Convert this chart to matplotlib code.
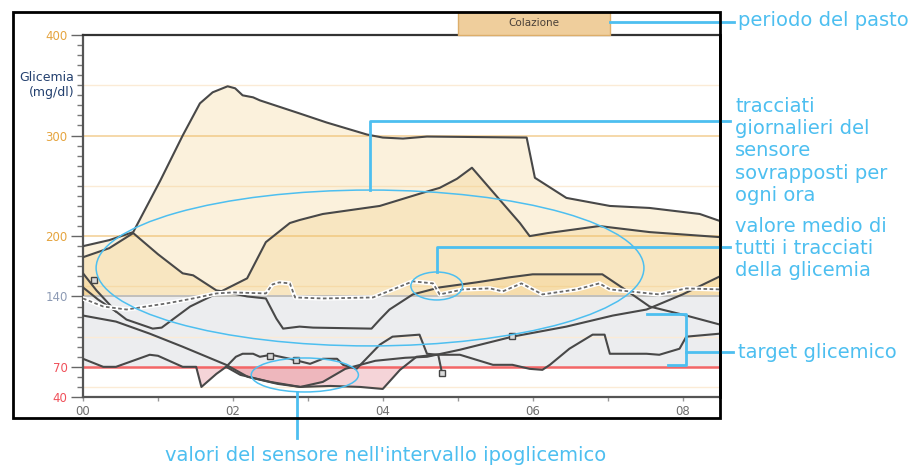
import numpy as np
import matplotlib.pyplot as plt
from matplotlib.patches import Ellipse, Rectangle

# hours since 00:00 / glucose mg/dl, one list pair per daily sensor trace
t_peak = [0, 0.35, 0.67, 1.03, 1.33, 1.56, 1.73, 1.93, 2.03, 2.13, 2.27, 2.36, 2.89, 3.25,
          3.79, 4.0, 4.27, 4.59, 5.92, 6.03, 6.45, 7.03, 7.56, 8.23, 8.5]
g_peak = [190, 196, 204, 255, 300, 332, 343, 349, 347, 340, 338, 335, 322, 313,
          301, 298, 297, 299, 298, 258, 238, 230, 228, 222, 215]

t_drop = [0, 0.35, 0.67, 1.0, 1.33, 1.47, 1.78, 1.87, 2.19, 2.44, 2.58, 2.67, 2.89, 3.07,
          3.85, 3.96, 4.09, 4.4, 4.76, 5.25, 5.69, 6.0, 6.93, 7.07, 7.29, 7.56, 8.05, 8.5]
g_drop = [179, 188, 203, 182, 163, 161, 146, 145, 140, 138, 118, 108, 110, 109,
          108, 117, 127, 142, 149, 154, 159, 162, 162, 155, 144, 130, 121, 112]

t_rise = [0, 0.18, 0.44, 0.58, 0.93, 1.05, 1.43, 1.87, 2.19, 2.44, 2.76, 2.89, 3.2, 3.96,
          4.53, 4.76, 4.99, 5.19, 5.69, 5.83, 5.96, 6.2, 6.89, 7.56, 8.5]
g_rise = [163, 146, 125, 117, 108, 109, 130, 146, 158, 194, 213, 216, 222, 230,
          243, 248, 257, 268, 225, 213, 200, 203, 210, 204, 199]

t_short = [0, 0.2, 0.44]
g_short = [149, 137, 125]

t_diag = [0, 0.44, 0.89, 1.33, 1.91, 2.2, 2.6, 2.9, 3.2, 3.5, 3.9, 4.3, 4.59, 5.03,
          5.73, 6.45, 7.07, 7.52, 8.0, 8.5]
g_diag = [121, 115, 103, 90, 72, 60, 53, 50, 55, 68, 76, 79, 80, 87,
          100, 110, 121, 127, 142, 160]

t_low = [0, 0.27, 0.44, 0.89, 1.0, 1.33, 1.51, 1.58, 1.78, 1.91, 2.1, 2.5, 2.9, 3.3, 3.7,
         4.0, 4.23, 4.45, 4.7, 5.03, 5.47, 5.73, 5.96, 6.13, 6.23, 6.49, 6.8, 6.96, 7.03,
         7.52, 7.69, 7.96, 8.05, 8.5]
g_low = [78, 70, 70, 82, 81, 70, 70, 50, 63, 70, 62, 55, 50, 51, 50,
         48, 67, 80, 82, 82, 72, 72, 68, 67, 72, 88, 102, 102, 83,
         83, 82, 88, 100, 103]

t_bump = [1.91, 2.04, 2.13, 2.27, 2.36, 2.51, 2.76, 3.03, 3.2, 3.39, 3.47, 3.65, 3.96,
          4.13, 4.49, 4.59, 4.74, 4.79]
g_bump = [70, 80, 83, 83, 80, 82, 78, 73, 78, 78, 72, 68, 92,
          100, 102, 83, 82, 64]

t_mean = [0, 0.27, 0.58, 1.11, 1.47, 1.78, 2.0, 2.44, 2.53, 2.62, 2.76, 2.83, 3.2, 3.87,
          4.4, 4.67, 4.76, 5.07, 5.43, 5.6, 5.85, 6.13, 6.59, 6.89, 7.03, 7.69, 8.05, 8.5]
g_mean = [138, 130, 127, 133, 138, 143, 144, 143, 152, 154, 153, 139, 138, 139,
          155, 153, 142, 147, 148, 145, 153, 142, 147, 153, 147, 142, 148, 147]

# event markers on traces
mark_t = [0.15, 2.5, 2.84, 4.79, 5.73]
mark_g = [156, 81, 77, 64, 101]

yticks = [40, 70, 140, 200, 300, 400]
ytick_colors = ['#F0505A', '#F0505A', '#8C9AB4', '#E5A43E', '#E5A43E', '#E5A43E']
xticks = [0, 2, 4, 6, 8]
xlabels = ['00', '02', '04', '06', '08']
meal_name = 'Colazione'
meal_start, meal_end = 5.0, 7.03

traces = [(t_peak, g_peak), (t_drop, g_drop), (t_rise, g_rise), (t_short, g_short),
          (t_diag, g_diag), (t_low, g_low), (t_bump, g_bump)]

W, H = 914, 465
fig = plt.figure(figsize=(W / 100, H / 100), dpi=100)
ax = fig.add_axes([83 / W, 1 - 397 / H, (720 - 83) / W, (397 - 35) / H])
ax.set_xlim(0, 8.5)
ax.set_ylim(40, 400)

# background bands and grid
ax.axhspan(70, 140, color='#ECEDEF', zorder=0, lw=0)
for y in [350, 250, 150, 100, 50]:
    ax.axhline(y, color='#FBEBD6', lw=1.0, zorder=0.5)
for y in [300, 200]:
    ax.axhline(y, color='#F4D6A2', lw=1.3, zorder=0.5)

# layered fills above 140 and below 70
for t, g in traces:
    tt = np.linspace(t[0], t[-1], 600)
    gg = np.interp(tt, t, g)
    ax.fill_between(tt, gg, 140, where=gg > 140, interpolate=True,
                    color='#F0C369', alpha=0.23, lw=0, zorder=1)
    ax.fill_between(tt, gg, 70, where=gg < 70, interpolate=True,
                    color='#E27C86', alpha=0.32, lw=0, zorder=1)

ax.axhline(140, color='#BDBDBD', lw=1.3, zorder=2)
ax.axhline(70, color='#F36666', lw=1.8, zorder=2)

for t, g in traces:
    ax.plot(t, g, color='#484848', lw=1.5, zorder=3, solid_joinstyle='round')

ax.plot(t_mean, g_mean, color='white', lw=3.2, zorder=4)
ax.plot(t_mean, g_mean, color='#6A6A6A', lw=1.3, ls=(0, (2, 1.4)), zorder=5)
ax.plot(mark_t, mark_g, ls='none', marker='s', ms=4.5, mfc='#DADADA',
        mec='#444444', mew=1.0, zorder=6)

# axes styling
for s in ['left', 'bottom']:
    ax.spines[s].set_color('#555555')
    ax.spines[s].set_linewidth(1.6)
ax.spines['top'].set_color('#333333')
ax.spines['top'].set_linewidth(1.6)
ax.spines['right'].set_color('black')
ax.spines['right'].set_linewidth(2)

ax.set_yticks(yticks)
ax.set_yticklabels([str(v) for v in yticks], fontsize=8.5)
for lab, c in zip(ax.get_yticklabels(), ytick_colors):
    lab.set_color(c)
ax.set_yticks(np.arange(40, 401, 10), minor=True)
ax.tick_params(axis='y', which='major', length=9, width=1, color='#666666', pad=2)
ax.tick_params(axis='y', which='minor', length=4.5, width=1, color='#777777')

ax.set_xticks(xticks)
ax.set_xticklabels(xlabels, fontsize=8.5, color='#6E6E6E')
ax.set_xticks([1, 3, 5, 7], minor=True)
ax.tick_params(axis='x', which='both', length=3, width=1, color='#999999', pad=3)

# meal period box above the plot
ax.add_patch(Rectangle((meal_start, 400), meal_end - meal_start, 23, facecolor='#EFCE9C',
                       edgecolor='#DDAE6A', lw=1, clip_on=False, zorder=3))
ax.text((meal_start + meal_end) / 2, 411.5, meal_name, ha='center', va='center',
        fontsize=7.5, color='#4A4038')

fig.text(74 / W, 1 - 85 / H, 'Glicemia\n(mg/dl)', ha='right', va='center',
         fontsize=9, color='#23406F', linespacing=1.2)

# outer frame
fig.patches.append(Rectangle((13 / W, 1 - 418 / H), 707 / W, 406 / H, fill=False,
                             ec='black', lw=2, transform=fig.transFigure))

# callouts
blue = '#4DBFF0'
kw = dict(color=blue, lw=2, clip_on=False, zorder=7)
ax.plot([7.03, 8.69], [413, 413], **kw)
ax.plot([3.83, 3.83, 8.63], [246, 314.5, 314.5], **kw)
ax.plot([4.72, 4.72, 8.63], [164.3, 189.2, 189.2], **kw)
ax.plot([7.52, 8.05, 8.05, 7.8], [122.5, 122.5, 71.8, 71.8], **kw)
ax.plot([8.05, 8.67], [84.7, 84.7], **kw)
ax.plot([2.85, 2.85], [45, -1], **kw)
for xy, w, h in [((3.83, 168.3), 7.31, 155), ((4.72, 150.4), 0.69, 27.8),
                 ((2.96, 61.9), 1.43, 33.8)]:
    ax.add_patch(Ellipse(xy, w, h, fill=False, ec=blue, lw=1.1, zorder=7))

fs = 14
fig.text(738 / W, 1 - 21 / H, 'periodo del pasto', fontsize=fs, color=blue, va='center')
for i, s in enumerate(['tracciati', 'giornalieri del', 'sensore', 'sovrapposti per', 'ogni ora']):
    fig.text(735 / W, 1 - (107 + 22 * i) / H, s, fontsize=fs, color=blue, va='center')
for i, s in enumerate(['valore medio di', 'tutti i tracciati', 'della glicemia']):
    fig.text(735 / W, 1 - (226 + 22 * i) / H, s, fontsize=fs, color=blue, va='center')
fig.text(738 / W, 1 - 352 / H, 'target glicemico', fontsize=fs, color=blue, va='center')
fig.text(386 / W, 1 - 455 / H, "valori del sensore nell'intervallo ipoglicemico",
         fontsize=fs, color=blue, va='center', ha='center')

fig.savefig('out.png', dpi=100)
